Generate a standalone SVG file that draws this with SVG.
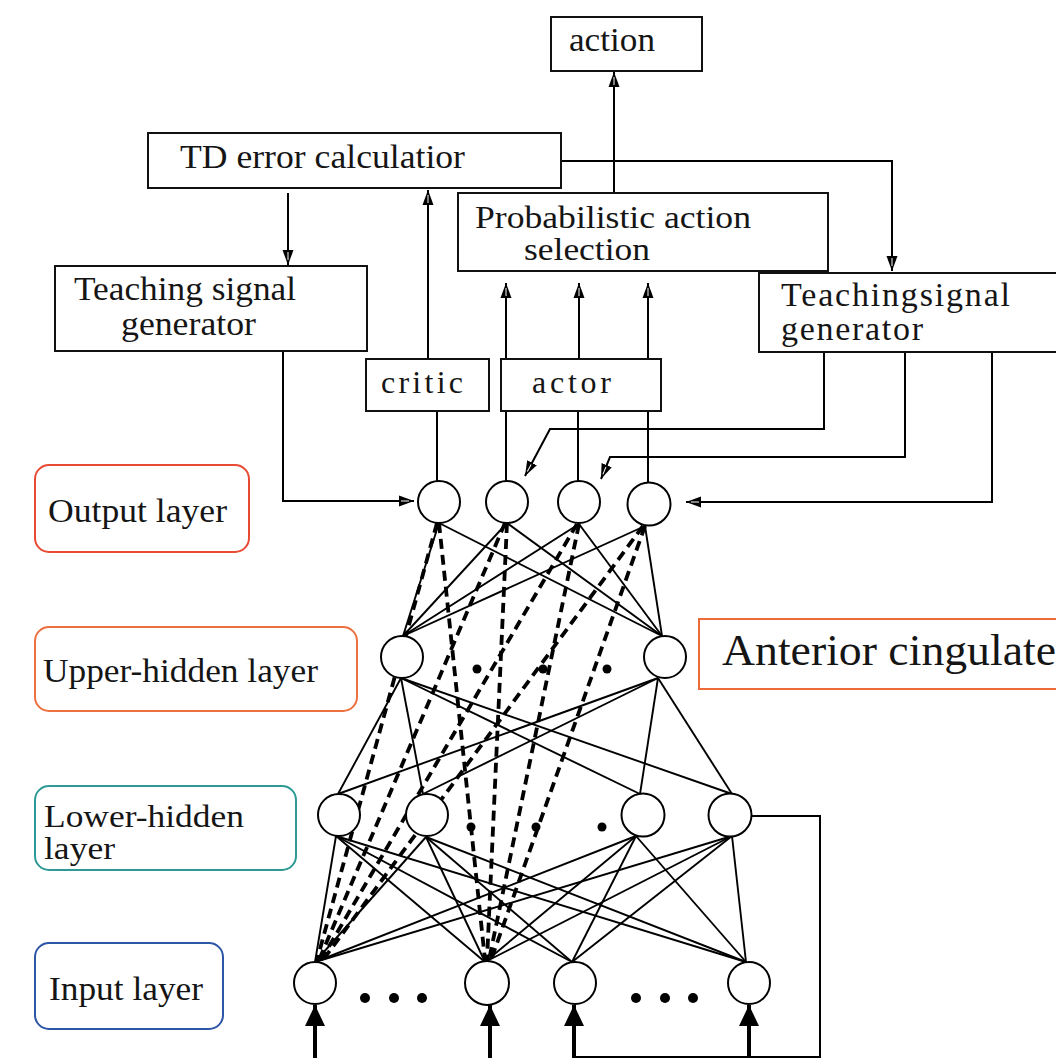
<svg xmlns="http://www.w3.org/2000/svg" width="1056" height="1062" viewBox="0 0 1056 1062" font-family="'Liberation Serif', 'Times New Roman', serif">
<style>
  text { font-family: "Liberation Serif", "Times New Roman", serif; font-size: 34px; fill: #151515; }
  .box { fill: #fff; stroke: #111; stroke-width: 2; }
  .ln { fill: none; stroke: #000; stroke-width: 2; }
  .sl { stroke: #000; stroke-width: 1.9; fill: none; }
  .dl { stroke: #000; stroke-width: 3.8; fill: none; stroke-dasharray: 10 6; }
  .node { fill: #fff; stroke: #000; stroke-width: 2; }
  .lab { fill: #fff; stroke-width: 2; }
  .bold { stroke: #000; stroke-width: 4; fill: none; }
  .dot { fill: #000; }
</style>
<defs>
  <marker id="ah" markerUnits="userSpaceOnUse" markerWidth="16" markerHeight="12" refX="15" refY="6" orient="auto">
    <path d="M0,0.5 L15,6 L0,11.5 Z" fill="#000"/>
    <path d="M2,6 L10,6" stroke="#fff" stroke-width="1"/>
  </marker>
  <marker id="bah" markerUnits="userSpaceOnUse" markerWidth="22" markerHeight="20" refX="21" refY="10" orient="auto">
    <path d="M0,0 L21,10 L0,20 Z" fill="#000"/>
  </marker>
</defs>

<!-- connectors -->
<g id="connectors">
  <!-- top section -->
  <line class="ln" x1="614" y1="197" x2="614" y2="72" marker-end="url(#ah)"/>
  <polyline class="ln" points="558,161 892,161 892,271" marker-end="url(#ah)"/>
  <line class="ln" x1="288" y1="193" x2="288" y2="265" marker-end="url(#ah)"/>
  <line class="ln" x1="428" y1="359" x2="428" y2="190" marker-end="url(#ah)"/>
  <line class="ln" x1="506" y1="359" x2="506" y2="283" marker-end="url(#ah)"/>
  <line class="ln" x1="579" y1="359" x2="579" y2="283" marker-end="url(#ah)"/>
  <line class="ln" x1="648" y1="359" x2="648" y2="283" marker-end="url(#ah)"/>
  <!-- critic / actor to output -->
  <line class="ln" x1="437" y1="411" x2="437" y2="481"/>
  <line class="ln" x1="506" y1="411" x2="506" y2="481"/>
  <line class="ln" x1="578" y1="411" x2="578" y2="481"/>
  <line class="ln" x1="648" y1="411" x2="648" y2="483"/>
  <!-- teaching signals -->
  <polyline class="ln" points="283,345 283,501 414,501" marker-end="url(#ah)"/>
  <polyline class="ln" points="824,345 824,429 550,429 525,476" marker-end="url(#ah)"/>
  <polyline class="ln" points="905,345 905,457 610,457 601,479" marker-end="url(#ah)"/>
  <polyline class="ln" points="992,345 992,502 686,502" marker-end="url(#ah)"/>

  <!-- output -> upper hidden (solid) -->
  <g class="sl">
    <line x1="439" y1="523" x2="403" y2="636"/>
    <line x1="439" y1="523" x2="662" y2="636"/>
    <line x1="507" y1="523" x2="403" y2="636"/>
    <line x1="507" y1="523" x2="662" y2="636"/>
    <line x1="579" y1="524" x2="403" y2="636"/>
    <line x1="579" y1="524" x2="662" y2="636"/>
    <line x1="645" y1="526" x2="403" y2="636"/>
    <line x1="645" y1="526" x2="662" y2="636"/>
  </g>
  <!-- upper hidden -> lower hidden -->
  <g class="sl">
    <line x1="401" y1="678" x2="338" y2="794"/>
    <line x1="401" y1="678" x2="423" y2="794"/>
    <line x1="401" y1="678" x2="640" y2="794"/>
    <line x1="401" y1="678" x2="732" y2="794"/>
    <line x1="658" y1="678" x2="338" y2="794"/>
    <line x1="658" y1="678" x2="423" y2="794"/>
    <line x1="658" y1="678" x2="640" y2="794"/>
    <line x1="658" y1="678" x2="732" y2="794"/>
  </g>
  <!-- lower hidden -> input -->
  <g class="sl">
    <line x1="336" y1="836" x2="315" y2="962"/>
    <line x1="336" y1="836" x2="485" y2="962"/>
    <line x1="336" y1="836" x2="572" y2="962"/>
    <line x1="336" y1="836" x2="746" y2="962"/>
    <line x1="426" y1="837" x2="315" y2="962"/>
    <line x1="426" y1="837" x2="485" y2="962"/>
    <line x1="426" y1="837" x2="572" y2="962"/>
    <line x1="426" y1="837" x2="746" y2="962"/>
    <line x1="636" y1="836" x2="315" y2="962"/>
    <line x1="636" y1="836" x2="485" y2="962"/>
    <line x1="636" y1="836" x2="572" y2="962"/>
    <line x1="636" y1="836" x2="746" y2="962"/>
    <line x1="732" y1="836" x2="315" y2="962"/>
    <line x1="732" y1="836" x2="485" y2="962"/>
    <line x1="732" y1="836" x2="572" y2="962"/>
    <line x1="732" y1="836" x2="746" y2="962"/>
  </g>
  <!-- dashed: output -> input -->
  <g class="dl">
    <line x1="437" y1="523" x2="317" y2="960"/>
    <line x1="439" y1="523" x2="485" y2="960"/>
    <line x1="505" y1="523" x2="319" y2="960"/>
    <line x1="507" y1="523" x2="487" y2="960"/>
    <line x1="577" y1="524" x2="321" y2="960"/>
    <line x1="579" y1="524" x2="489" y2="960"/>
    <line x1="643" y1="526" x2="323" y2="960"/>
    <line x1="645" y1="526" x2="491" y2="960"/>
  </g>
  <!-- feedback loop -->
  <polyline class="ln" points="752,816 820,816 820,1057 574,1057"/>
  <!-- input arrows -->
  <line class="bold" x1="315" y1="1058" x2="315" y2="1005" marker-end="url(#bah)"/>
  <line class="bold" x1="490" y1="1058" x2="490" y2="1005" marker-end="url(#bah)"/>
  <line class="bold" x1="574" y1="1058" x2="574" y2="1005" marker-end="url(#bah)"/>
  <line class="bold" x1="749" y1="1058" x2="749" y2="1005" marker-end="url(#bah)"/>
</g>

<!-- boxes -->
<g id="action">
  <rect class="box" x="551" y="17" width="151" height="54"/>
  <text x="569" y="51" textLength="86" lengthAdjust="spacingAndGlyphs">action</text>
</g>
<g id="td-error">
  <rect class="box" x="148" y="133" width="413" height="55"/>
  <text x="180" y="168" textLength="285" lengthAdjust="spacingAndGlyphs">TD error calculatior</text>
</g>
<g id="prob-action">
  <rect class="box" x="458" y="193" width="370" height="78"/>
  <text x="475" y="228" style="font-size:31px" textLength="276" lengthAdjust="spacingAndGlyphs">Probabilistic action</text>
  <text x="524" y="260" style="font-size:31px" textLength="126" lengthAdjust="spacingAndGlyphs">selection</text>
</g>
<g id="teach-left">
  <rect class="box" x="55" y="266" width="312" height="85"/>
  <text x="74" y="300" textLength="222" lengthAdjust="spacingAndGlyphs">Teaching signal</text>
  <text x="121" y="335" textLength="135" lengthAdjust="spacingAndGlyphs">generator</text>
</g>
<g id="teach-right">
  <rect class="box" x="759" y="273" width="310" height="79"/>
  <text x="781" y="306" textLength="229" lengthAdjust="spacing">Teachingsignal</text>
  <text x="781" y="340" textLength="142" lengthAdjust="spacing">generator</text>
</g>
<g id="critic">
  <rect class="box" x="366" y="359" width="123" height="52"/>
  <text x="381" y="393" textLength="82" lengthAdjust="spacing" style="font-size:32px">critic</text>
</g>
<g id="actor">
  <rect class="box" x="501" y="359" width="160" height="52"/>
  <text x="532" y="393" textLength="79" lengthAdjust="spacing" style="font-size:32px">actor</text>
</g>

<!-- output layer nodes -->
<g id="out1"><circle class="node" cx="439" cy="502" r="21"/></g>
<g id="out2"><circle class="node" cx="507" cy="502" r="21"/></g>
<g id="out3"><circle class="node" cx="579" cy="502" r="21"/></g>
<g id="out4"><circle class="node" cx="649" cy="504" r="21.5"/></g>

<!-- upper hidden -->
<g id="up1"><circle class="node" cx="402" cy="657" r="21"/></g>
<g id="up2"><circle class="node" cx="665" cy="657" r="21"/></g>
<g id="up-dots">
  <circle class="dot" cx="477" cy="669" r="4.5"/>
  <circle class="dot" cx="543" cy="669" r="4.5"/>
  <circle class="dot" cx="607" cy="669" r="4.5"/>
</g>

<!-- lower hidden -->
<g id="low1"><circle class="node" cx="339" cy="815" r="21"/></g>
<g id="low2"><circle class="node" cx="427" cy="815" r="21"/></g>
<g id="low3"><circle class="node" cx="643" cy="815" r="21.5"/></g>
<g id="low4"><circle class="node" cx="730" cy="815" r="21.5"/></g>
<g id="low-dots">
  <circle class="dot" cx="471" cy="827" r="4.5"/>
  <circle class="dot" cx="536" cy="827" r="4.5"/>
  <circle class="dot" cx="602" cy="827" r="4.5"/>
</g>

<!-- input layer -->
<g id="in1"><circle class="node" cx="315" cy="983" r="21"/></g>
<g id="in2"><circle class="node" cx="487" cy="983" r="22"/></g>
<g id="in3"><circle class="node" cx="575" cy="983" r="21"/></g>
<g id="in4"><circle class="node" cx="749" cy="983" r="21"/></g>
<g id="in-dots">
  <circle class="dot" cx="365" cy="998" r="5"/>
  <circle class="dot" cx="394" cy="998" r="5"/>
  <circle class="dot" cx="422" cy="998" r="5"/>
  <circle class="dot" cx="636" cy="998" r="5"/>
  <circle class="dot" cx="665" cy="998" r="5"/>
  <circle class="dot" cx="693" cy="998" r="5"/>
</g>

<!-- layer labels -->
<g id="label-output">
  <rect class="lab" x="35" y="465" width="214" height="87" rx="14" stroke="#E84A33"/>
  <text x="48" y="522" textLength="179" lengthAdjust="spacingAndGlyphs">Output layer</text>
</g>
<g id="label-upper">
  <rect class="lab" x="35" y="627" width="322" height="84" rx="14" stroke="#EE7040"/>
  <text x="43" y="682" textLength="275" lengthAdjust="spacingAndGlyphs">Upper-hidden layer</text>
</g>
<g id="label-lower">
  <rect class="lab" x="35" y="786" width="261" height="84" rx="14" stroke="#2E9A96"/>
  <text x="44" y="827" style="font-size:31px" textLength="200" lengthAdjust="spacingAndGlyphs">Lower-hidden</text>
  <text x="44" y="859" style="font-size:31px" textLength="71" lengthAdjust="spacingAndGlyphs">layer</text>
</g>
<g id="label-input">
  <rect class="lab" x="35" y="943" width="188" height="86" rx="14" stroke="#2D56A6"/>
  <text x="49" y="1000" textLength="154" lengthAdjust="spacingAndGlyphs">Input layer</text>
</g>
<g id="label-anterior">
  <rect class="lab" x="699" y="619" width="370" height="70" stroke="#EE6A3A"/>
  <text x="722" y="665" style="font-size:44px" textLength="334" lengthAdjust="spacingAndGlyphs">Anterior cingulate</text>
</g>
</svg>
